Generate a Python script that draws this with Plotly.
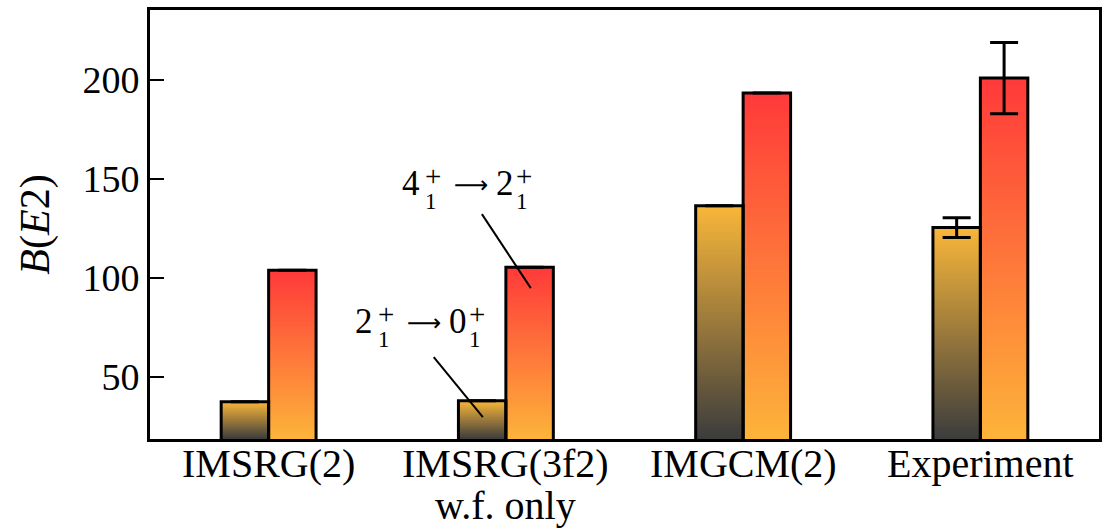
import numpy as np
import plotly.graph_objects as go

categories = ["IMSRG(2)", "IMSRG(3f2)", "IMGCM(2)", "Experiment"]
sublabels = ["", "w.f. only", "", ""]
be2_2to0 = [37.5, 38.0, 136.5, 125.5]
be2_4to2 = [104.0, 105.5, 193.5, 201.0]
err_2to0 = [None, None, None, 5.0]
err_4to2 = [None, None, None, 18.0]

YMIN, YMAX = 18.7, 235.4
BAR_W = 0.2
FONT = "Liberation Serif"

def lerp(c0, c1, t):
    c0 = [int(c0[i:i + 2], 16) for i in (1, 3, 5)]
    c1 = [int(c1[i:i + 2], 16) for i in (1, 3, 5)]
    return "rgb(%d,%d,%d)" % tuple(round(a + (b - a) * t) for a, b in zip(c0, c1))

def gradient_trace(xpos, values, c_bot, c_top, n=90):
    xs, bases, hs, cols = [], [], [], []
    for x, v in zip(xpos, values):
        for k in range(n):
            start = YMIN + (v - YMIN) * k / n
            xs.append(x)
            bases.append(start)
            hs.append(v - start)
            cols.append(lerp(c_bot, c_top, k / (n - 1)))
    return go.Bar(x=xs, y=hs, base=bases, width=BAR_W,
                  marker=dict(color=cols, line=dict(width=0)),
                  hoverinfo="skip", showlegend=False)

idx = np.arange(len(categories))
x_left = idx - BAR_W / 2
x_right = idx + BAR_W / 2

fig = go.Figure()
fig.add_trace(gradient_trace(x_left, be2_2to0, "#3d3d3d", "#f8b63a"))
fig.add_trace(gradient_trace(x_right, be2_4to2, "#fdb33a", "#ff3a3a"))

for xpos, vals, errs in ((x_left, be2_2to0, err_2to0), (x_right, be2_4to2, err_4to2)):
    fig.add_trace(go.Bar(
        x=xpos, y=vals, base=0, width=BAR_W,
        marker=dict(color="rgba(0,0,0,0)", line=dict(color="black", width=3)),
        error_y=dict(type="data", array=errs, visible=True, color="black",
                     thickness=3, width=14),
        showlegend=False, hoverinfo="skip"))

# leader lines
fig.add_shape(type="line", x0=0.899, y0=132.3, x1=1.105, y1=94.9,
              line=dict(color="black", width=2))
fig.add_shape(type="line", x0=0.696, y0=60.1, x1=0.903, y1=29.8,
              line=dict(color="black", width=2))

SCRIPT = ("<span style='font-size:29px'>+</span><br>"
          "<span style='font-size:23px'>1</span>")

def label(ax, ay, main1, main2):
    parts = [
        (main1, 0, 0, 35, FONT, "center"),
        (SCRIPT, 13, -4, 18, FONT, "left"),
        ("\u27f6", 60, -2, 24, "DejaVu Sans", "center"),
        (main2, 94, 0, 35, FONT, "center"),
        (SCRIPT, 104, -4, 18, FONT, "left"),
    ]
    for txt, dx, dy, fs, fam, anc in parts:
        fig.add_annotation(x=ax, y=ay, text=txt, showarrow=False, align="left",
                           xshift=dx, yshift=dy, xanchor=anc, yanchor="middle",
                           borderpad=0,
                           font=dict(family=fam, size=fs, color="black"))

label(0.599, 148.0, "4", "2")
label(0.401, 78.3, "2", "0")

# category labels
for i, (cat, sub) in enumerate(zip(categories, sublabels)):
    fig.add_annotation(x=i, xref="x", y=0, yref="paper", text=cat, showarrow=False,
                       xanchor="center", yanchor="top", yshift=0,
                       font=dict(family=FONT, size=40, color="black"))
    if sub:
        fig.add_annotation(x=i, xref="x", y=0, yref="paper", text=sub, showarrow=False,
                           xanchor="center", yanchor="top", yshift=-42,
                           font=dict(family=FONT, size=40, color="black"))

fig.update_layout(
    barmode="overlay",
    width=1102, height=528,
    margin=dict(l=150, r=3, t=10, b=89),
    plot_bgcolor="white", paper_bgcolor="white",
    font=dict(family=FONT, size=38, color="black"),
)
fig.update_xaxes(
    range=[-0.5, 3.5], tickmode="array", tickvals=list(idx), showticklabels=False,
    showline=True, linecolor="black", linewidth=3, mirror=True,
    ticks="", showgrid=False, zeroline=False, automargin=False,
)
fig.update_yaxes(
    range=[YMIN, YMAX], tickvals=[50, 100, 150, 200],
    showline=True, linecolor="black", linewidth=3, mirror=True,
    ticks="inside", ticklen=14, tickwidth=2, tickcolor="black",
    showgrid=False, zeroline=False, automargin=False,
    tickfont=dict(family=FONT, size=38),
    title=dict(text="<i>B</i>(<i>E</i>2)", font=dict(family=FONT, size=42), standoff=20),
)

fig.write_html("out.html")
